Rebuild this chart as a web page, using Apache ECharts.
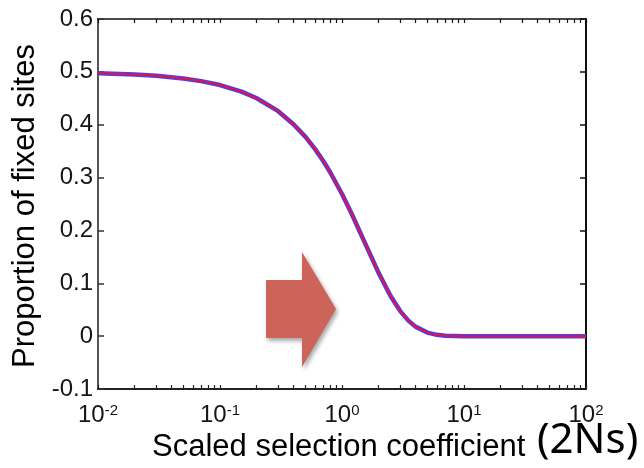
<!DOCTYPE html>
<html>
<head>
<meta charset="utf-8">
<script src="https://cdn.jsdelivr.net/npm/echarts@6/dist/echarts.min.js"></script>
<style>
html,body{margin:0;padding:0;background:#fff;}
#chart{width:644px;height:468px;}
</style>
</head>
<body>
<div id="chart"></div>
<script>
// ---- data ----
var selectionCoef = [0.01,0.02,0.03,0.05,0.07,0.1,0.15,0.2,0.3,0.4,0.5,0.6,0.7,0.8,1,1.2,1.5,2,2.5,3,3.5,4,5,6,7,10,20,50,100];
var fixedProportion = [0.4975,0.495,0.4925,0.4875,0.4825,0.475,0.4626,0.450,0.4256,0.401,0.3775,0.3543,0.3318,0.310,0.269,0.2315,0.1824,0.1192,0.0759,0.0474,0.0293,0.018,0.0067,0.0025,0.0009,0,0,0,0];
var xMajorTicks = [0.01, 0.1, 1, 10, 100];
var xMinorMultipliers = [2,3,4,5,6,7,8,9];
var yTicks = [-0.1, 0, 0.1, 0.2, 0.3, 0.4, 0.5, 0.6];
var xTitle = 'Scaled selection coefficient';
var xTitleUnit = '(2Ns)';
var yTitle = 'Proportion of fixed sites';

// tick positions (majors + 2..9 minors per decade)
var xAllTicks = [];
for (var i = 0; i < xMajorTicks.length; i++) {
  xAllTicks.push(xMajorTicks[i]);
  if (i < xMajorTicks.length - 1) {
    for (var j = 0; j < xMinorMultipliers.length; j++) {
      xAllTicks.push(+(xMinorMultipliers[j] * xMajorTicks[i]).toPrecision(6));
    }
  }
}
var lineData = selectionCoef.map(function (s, k) { return [s, fixedProportion[k]]; });

var FONT = '"Liberation Sans", Arial, sans-serif';
var chart = echarts.init(document.getElementById('chart'), null, {renderer: 'canvas'});

function xLabelFmt(v) {
  var e = Math.round(Math.log10(v));
  return '{b|10}{s|' + e + '}';
}

var option = {
  animation: false,
  backgroundColor: '#ffffff',
  grid: {left: 98, right: 58, top: 19, bottom: 79, containLabel: false},
  xAxis: [{
    type: 'log', logBase: 10, min: xMajorTicks[0], max: xMajorTicks[xMajorTicks.length - 1],
    position: 'bottom',
    axisLine: {show: true, onZero: false, lineStyle: {color: '#222', width: 2}},
    axisTick: {show: true, inside: true, length: 4, customValues: xAllTicks, lineStyle: {color: '#222', width: 1.2}},
    axisLabel: {
      show: true, margin: 14, customValues: xMajorTicks, formatter: xLabelFmt,
      rich: {
        b: {fontSize: 24, fontFamily: FONT, color: '#151515', lineHeight: 25},
        s: {fontSize: 15, fontFamily: FONT, color: '#151515', lineHeight: 12, verticalAlign: 'top'}
      }
    },
    splitLine: {show: false}, minorTick: {show: false}
  }, {
    type: 'log', logBase: 10, min: xMajorTicks[0], max: xMajorTicks[xMajorTicks.length - 1],
    position: 'top',
    axisLine: {show: true, onZero: false, lineStyle: {color: '#111', width: 1.6}},
    axisTick: {show: true, inside: true, length: 4, customValues: xAllTicks, lineStyle: {color: '#111', width: 1.2}},
    axisLabel: {show: false},
    splitLine: {show: false}
  }],
  yAxis: [{
    type: 'value', min: yTicks[0], max: yTicks[yTicks.length - 1], interval: 0.1,
    position: 'left',
    axisLine: {show: true, onZero: false, lineStyle: {color: '#555', width: 2}},
    axisTick: {show: true, inside: true, length: 6, lineStyle: {color: '#333', width: 1.5}},
    axisLabel: {
      show: true, margin: 5, fontSize: 24, fontFamily: FONT, color: '#151515',
      formatter: function (v) { return String(Math.round(v * 10) / 10); }
    },
    splitLine: {show: false}
  }, {
    type: 'value', min: yTicks[0], max: yTicks[yTicks.length - 1], interval: 0.1,
    position: 'right',
    axisLine: {show: true, onZero: false, lineStyle: {color: '#111', width: 2}},
    axisTick: {show: true, inside: true, length: 6, lineStyle: {color: '#111', width: 1.5}},
    axisLabel: {show: false},
    splitLine: {show: false}
  }],
  series: [{
    type: 'line', xAxisIndex: 0, yAxisIndex: 0, data: lineData,
    showSymbol: false, symbol: 'none', smooth: false,
    lineStyle: {color: '#4040ff', width: 4.5}, z: 2
  }, {
    type: 'line', xAxisIndex: 0, yAxisIndex: 0, data: lineData,
    showSymbol: false, symbol: 'none', smooth: false,
    lineStyle: {color: '#ee1133', width: 2}, z: 3
  }],
  graphic: [{
    type: 'polygon', z: 10,
    shape: {points: [[266,280],[302,280],[302,252],[336,309],[302,367],[302,338],[266,338]]},
    style: {fill: '#cd645a', shadowBlur: 4, shadowColor: 'rgba(0,0,0,0.35)', shadowOffsetX: 2, shadowOffsetY: 3}
  }, {
    type: 'text', x: 25, y: 206, rotation: Math.PI / 2, z: 10,
    style: {text: yTitle, font: '31px ' + FONT, fill: '#000', align: 'center', verticalAlign: 'middle'}
  }, {
    type: 'text', x: 152, y: 447, z: 10,
    style: {text: xTitle, font: '31px ' + FONT, fill: '#000', align: 'left', verticalAlign: 'middle'}
  }, {
    type: 'text', x: 537, y: 441, z: 10,
    style: {text: xTitleUnit, font: '42px "Noto Sans", "Open Sans", sans-serif', fill: '#000', align: 'left', verticalAlign: 'middle'}
  }]
};
chart.setOption(option);
</script>
</body>
</html>
